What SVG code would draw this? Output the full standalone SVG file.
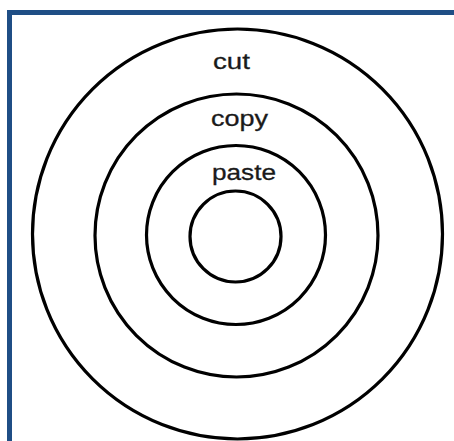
<svg xmlns="http://www.w3.org/2000/svg" width="454" height="441" viewBox="0 0 454 441">
<style>
.ring{fill:none;stroke:#000;stroke-width:3.2}
.lbl{font-family:"Liberation Sans",Arial,sans-serif;font-size:22px;fill:#1a1a1a;stroke:#1a1a1a;stroke-width:0.3}
</style>
<rect x="0" y="0" width="454" height="441" fill="#fff"/>
<rect id="frame" x="9.5" y="12.5" width="460" height="440" fill="none" stroke="#1F4E85" stroke-width="5"/>
<g id="ring-cut"><circle class="ring" cx="237.5" cy="234" r="205"/></g>
<g id="ring-copy"><circle class="ring" cx="236.5" cy="235.5" r="141.5"/></g>
<g id="ring-paste"><circle class="ring" cx="236" cy="235" r="89.5"/></g>
<g id="ring-core"><circle class="ring" cx="235.5" cy="236.5" r="45.5"/></g>
<g id="labels">
<text class="lbl" x="213" y="69" textLength="37" lengthAdjust="spacingAndGlyphs">cut</text>
<text class="lbl" x="211" y="126" textLength="57" lengthAdjust="spacingAndGlyphs">copy</text>
<text class="lbl" x="212" y="180" textLength="64" lengthAdjust="spacingAndGlyphs">paste</text>
</g>
<g id="connectors"/>
</svg>
